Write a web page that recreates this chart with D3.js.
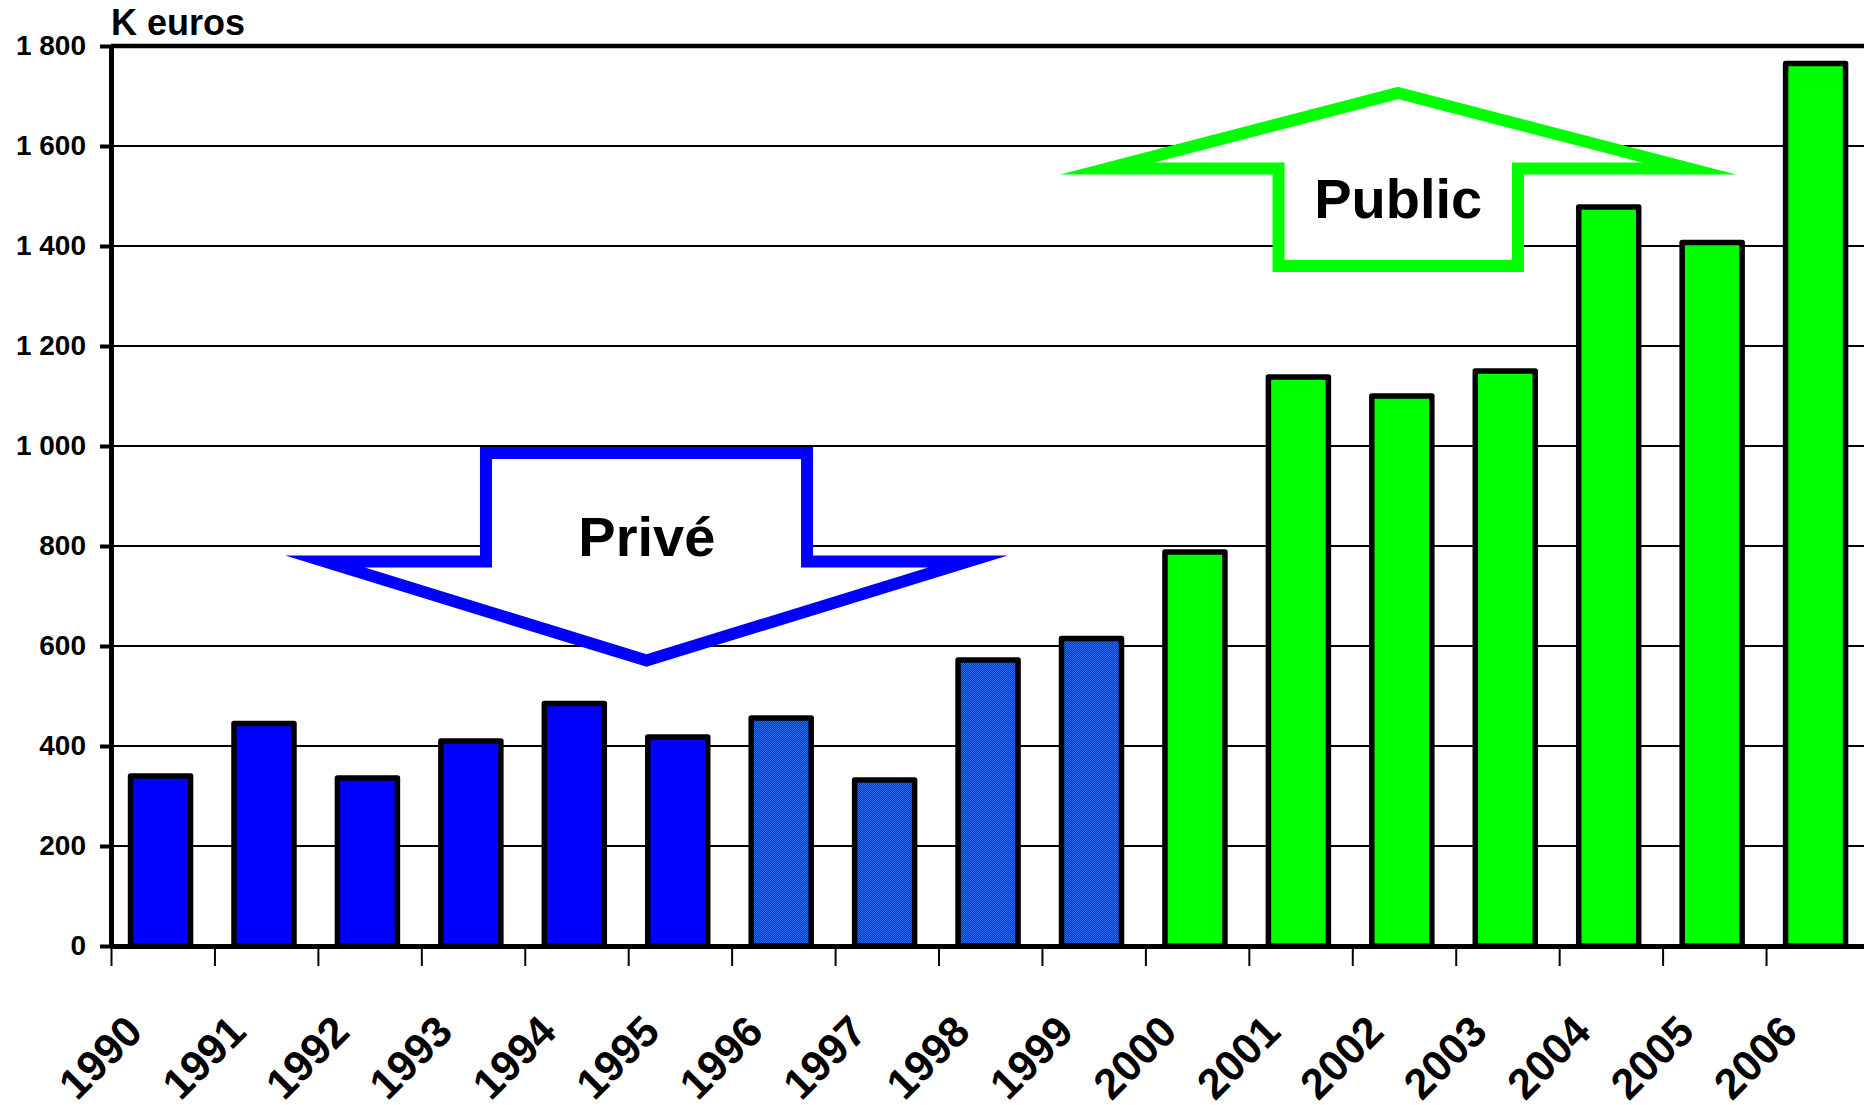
<!DOCTYPE html>
<html>
<head>
<meta charset="utf-8">
<script src="https://cdn.jsdelivr.net/npm/d3@7/dist/d3.min.js"></script>
<style>
  body { margin: 0; background: #fff; }
  text { font-family: "Liberation Sans", Arial, sans-serif; font-weight: bold; fill: #000; }
</style>
</head>
<body>
<svg id="chart"></svg>
<script>
// data (K euros)
var years = ['1990','1991','1992','1993','1994','1995','1996','1997','1998',
             '1999','2000','2001','2002','2003','2004','2005','2006'];
var values = [340, 445, 336, 410, 485, 418, 456, 332, 572,
              615, 788, 1138, 1100, 1150, 1478, 1407, 1765];
var yTicks = [0, 200, 400, 600, 800, 1000, 1200, 1400, 1600, 1800];
var yTickLabels = ['0', '200', '400', '600', '800', '1 000', '1 200', '1 400', '1 600', '1 800'];

// annotation arrows, in (band index, K euros)
var priveArrow = [[3.625, 986], [6.729, 986], [6.729, 769], [8.285, 769],
                  [5.177, 571], [2.069, 769], [3.625, 769]];
var publicArrow = [[12.444, 1706], [15.257, 1555], [13.602, 1555], [13.602, 1360],
                   [11.287, 1360], [11.287, 1555], [9.631, 1555]];
var priveLabel = {text: 'Privé', at: [5.18, 780]};
var publicLabel = {text: 'Public', at: [12.444, 1456]};

var width = 1864, height = 1105;
var plotLeft = 111, plotTop = 46, plotBottom = 946;
var step = 103.44;

var svg = d3.select('#chart')
    .attr('width', width)
    .attr('height', height);

// dithered blue used for 1996-1999
var defs = svg.append('defs');
var pat = defs.append('pattern')
    .attr('id', 'dots')
    .attr('width', 2).attr('height', 2)
    .attr('patternUnits', 'userSpaceOnUse');
pat.append('rect').attr('width', 2).attr('height', 2).attr('fill', '#0028ff');
pat.append('rect').attr('width', 1).attr('height', 1).attr('fill', '#306ef0');
pat.append('rect').attr('x', 1).attr('y', 1).attr('width', 1).attr('height', 1).attr('fill', '#306ef0');

var x = d3.scaleBand()
    .domain(years)
    .range([plotLeft, plotLeft + step * years.length])
    .paddingInner(0.42)
    .paddingOuter(0.21)
    .align(0.45);

// continuous version of the band axis, used for ticks and arrows
var xi = d3.scaleLinear()
    .domain([0, years.length])
    .range([plotLeft, plotLeft + step * years.length]);

var y = d3.scaleLinear()
    .domain([0, 1800])
    .range([plotBottom, plotTop]);

function barFill(year) {
    if (+year < 1996) return '#0000ff';
    if (+year < 2000) return 'url(#dots)';
    return '#00ff00';
}

// gridlines
svg.append('g')
    .selectAll('line')
    .data(yTicks.filter(function (d) { return d > 0; }))
    .enter()
    .append('line')
    .attr('x1', plotLeft)
    .attr('x2', width + 10)
    .attr('y1', function (d) { return y(d); })
    .attr('y2', function (d) { return y(d); })
    .attr('stroke', '#000')
    .attr('stroke-width', function (d) { return d === 1800 ? 4.5 : 1.8; });

// bars
svg.append('g')
    .selectAll('rect')
    .data(values)
    .enter()
    .append('rect')
    .attr('x', function (d, i) { return x(years[i]); })
    .attr('y', function (d) { return y(d); })
    .attr('width', x.bandwidth())
    .attr('height', function (d) { return y(0) - y(d); })
    .attr('fill', function (d, i) { return barFill(years[i]); })
    .attr('stroke', '#000')
    .attr('stroke-width', 5.5)
    .attr('stroke-linejoin', 'round');

// arrows
var arrowLine = d3.line()
    .x(function (d) { return xi(d[0]); })
    .y(function (d) { return y(d[1]); });

svg.append('path')
    .attr('d', arrowLine(priveArrow) + 'Z')
    .attr('fill', '#fff')
    .attr('stroke', '#0000ff')
    .attr('stroke-width', 12)
    .attr('stroke-linejoin', 'miter')
    .attr('stroke-miterlimit', 12);

svg.append('path')
    .attr('d', arrowLine(publicArrow) + 'Z')
    .attr('fill', '#fff')
    .attr('stroke', '#00ff00')
    .attr('stroke-width', 12)
    .attr('stroke-linejoin', 'miter')
    .attr('stroke-miterlimit', 12);

[priveLabel, publicLabel].forEach(function (l) {
    svg.append('text')
        .attr('x', xi(l.at[0]))
        .attr('y', y(l.at[1]))
        .attr('text-anchor', 'middle')
        .style('font-size', '56px')
        .text(l.text);
});

// y axis
var yAxis = svg.append('g')
    .attr('transform', 'translate(' + plotLeft + ',0)')
    .call(d3.axisLeft(y)
        .tickValues(yTicks)
        .tickFormat(function (d, i) { return yTickLabels[i]; })
        .tickSize(11)
        .tickSizeOuter(0)
        .tickPadding(14));
yAxis.select('.domain').attr('stroke-width', 5);
yAxis.selectAll('.tick line').attr('stroke-width', 4);
yAxis.selectAll('.tick text')
    .style('font-size', '28px')
    .style('font-family', '"Liberation Sans", Arial, sans-serif');

// x axis: ticks between the bars
var xAxis = svg.append('g')
    .attr('transform', 'translate(0,' + plotBottom + ')')
    .call(d3.axisBottom(xi)
        .tickValues(d3.range(0, years.length + 1))
        .tickFormat('')
        .tickSize(20)
        .tickSizeOuter(0));
xAxis.select('.domain').attr('stroke-width', 5);
xAxis.selectAll('.tick line').attr('stroke-width', 2);

svg.append('g')
    .selectAll('text')
    .data(years)
    .enter()
    .append('text')
    .attr('transform', function (d, i) {
        return 'translate(' + (xi(i + 0.5) - 18) + ',1034) rotate(-45)';
    })
    .attr('text-anchor', 'end')
    .style('font-size', '43px')
    .text(function (d) { return d; });

svg.append('text')
    .attr('x', plotLeft)
    .attr('y', 35)
    .style('font-size', '36px')
    .text('K euros');
</script>
</body>
</html>
